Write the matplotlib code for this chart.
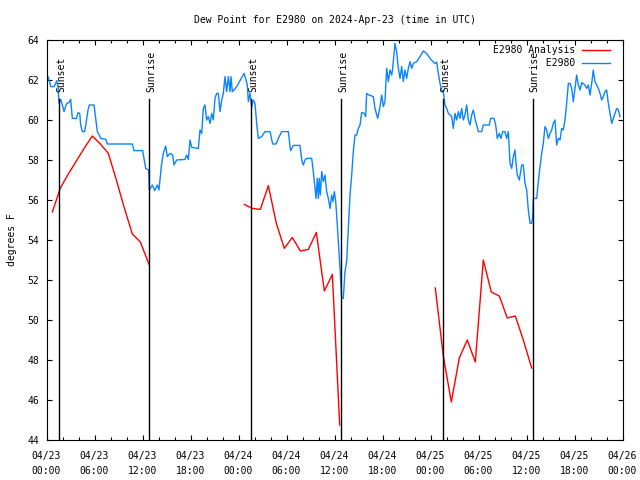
import numpy as np
import matplotlib
matplotlib.use("Agg")
import matplotlib.pyplot as plt
import matplotlib.dates as mdates

# hours since 2024-04-23 00:00 UTC
obs_hours = [0.1, 0.31, 0.52, 0.94, 1.15, 1.27, 1.44, 1.56, 1.77, 1.98, 2.19, 2.52, 2.81, 3.02, 3.23, 3.73,
             3.94, 4.15, 4.27, 4.48, 4.77, 4.94, 5.19, 5.35, 5.94, 6.15, 6.35, 6.6, 6.77, 7.44, 7.6, 10.73,
             10.94, 12.02, 12.19, 12.4, 12.77, 12.85, 13.23, 13.52, 13.85, 14.06, 14.35, 14.6, 14.9, 15.1,
             15.44, 15.77, 15.94, 16.27, 17.31, 17.52, 17.73, 17.94, 18.15, 18.98, 19.19, 19.4, 19.6, 19.81,
             20.02, 20.23, 20.44, 20.65, 20.85, 21.06, 21.27, 21.48, 21.69, 21.9, 22.1, 22.31, 22.52, 22.73,
             22.94, 23.06, 23.23, 23.44, 23.77, 24.69, 24.94, 25.1, 25.23, 25.44, 25.65, 25.85, 26.06, 26.27,
             26.48, 26.9, 27.31, 27.94, 28.27, 28.69, 28.98, 29.4, 30.23, 30.44, 30.52, 30.85, 31.69, 31.9,
             32.1, 32.31, 32.52, 33.15, 33.35, 33.56, 33.69, 33.85, 33.98, 34.1, 34.23, 34.4, 34.6, 34.81,
             35.02, 35.23, 35.44, 35.65, 35.81, 35.98, 36.15, 36.27, 36.4, 36.56, 36.69, 36.81, 36.9, 37.1,
             37.31, 37.52, 37.73, 37.94, 38.15, 38.35, 38.56, 38.77, 38.98, 39.19, 39.4, 39.73, 39.9, 40.02,
             40.31, 40.85, 41.06, 41.4, 41.69, 41.9, 42.1, 42.31, 42.52, 42.73, 42.94, 43.15, 43.27, 43.56,
             43.77, 43.98, 44.19, 44.4, 44.6, 44.81, 45.02, 45.23, 45.44, 45.65, 45.85, 46.27, 46.69, 47.1,
             47.52, 47.94, 48.35, 48.56, 48.77, 48.98, 49.19, 49.4, 49.6, 49.81, 50.02, 50.23, 50.44, 50.65,
             50.85, 51.06, 51.27, 51.48, 51.69, 51.9, 52.1, 52.31, 52.52, 52.73, 52.94, 53.15, 53.35, 53.56,
             53.77, 53.98, 54.4, 54.6, 55.35, 55.52, 55.94, 56.15, 56.35, 56.6, 56.81, 57.02, 57.31, 57.52,
             57.73, 57.94, 58.15, 58.35, 58.56, 58.69, 58.85, 59.1, 59.4, 59.6, 59.81, 60.02, 60.23, 60.44,
             60.65, 60.77, 60.85, 61.27, 61.48, 61.69, 61.9, 62.1, 62.31, 62.52, 62.73, 62.94, 63.15, 63.35,
             63.56, 63.77, 63.98, 64.19, 64.4, 64.6, 64.81, 65.02, 65.23, 65.44, 65.65, 65.85, 66.06, 66.27,
             66.48, 66.69, 66.9, 67.31, 67.52, 67.73, 67.94, 68.15, 68.35, 68.56, 68.77, 68.98, 69.19, 69.4,
             69.6, 69.81, 70.02, 70.23, 70.44, 70.65, 70.85, 71.06, 71.27, 71.48, 71.69]
obs_dewpt = [62.25, 62.03, 61.67, 61.67, 61.83, 61.97, 61.67, 60.83, 61.03, 60.75, 60.42, 60.83, 60.87, 61.03,
             60.08, 60.08, 60.37, 60.33, 59.75, 59.42, 59.42, 59.83, 60.5, 60.75, 60.75, 60.08, 59.42, 59.25,
             59.08, 59.03, 58.8, 58.8, 58.47, 58.47, 58.08, 57.58, 57.5, 56.5, 56.75, 56.47, 56.75, 56.5,
             57.67, 58.33, 58.7, 58.17, 58.33, 58.25, 57.75, 58.0, 58.03, 58.25, 58.03, 59.0, 58.63, 58.58,
             59.5, 59.33, 60.58, 60.75, 60.0, 60.17, 59.83, 60.33, 60.0, 61.08, 61.33, 61.33, 60.42, 61.0,
             61.33, 62.17, 61.42, 62.17, 61.42, 62.17, 61.42, 61.5, 61.67, 62.33, 62.0, 61.75, 60.92, 61.33,
             60.67, 61.0, 60.83, 59.83, 59.08, 59.17, 59.42, 59.42, 58.8, 58.8, 59.08, 59.42, 59.42, 58.67,
             58.47, 58.73, 58.73, 58.0, 57.75, 58.0, 58.08, 58.08, 57.42, 56.58, 56.08, 57.08, 56.08, 57.08,
             56.25, 57.42, 56.92, 57.25, 56.42, 56.08, 55.58, 56.25, 55.92, 56.42, 55.92, 55.25, 54.42, 53.42,
             52.58, 51.67, 51.08, 51.08, 52.42, 52.92, 54.58, 56.25, 57.25, 58.42, 59.25, 59.25, 59.58, 59.75,
             60.38, 60.33, 60.17, 61.33, 61.25, 61.17, 60.58, 60.08, 60.67, 61.25, 60.67, 60.92, 62.58, 61.92,
             62.5, 62.25, 62.58, 63.83, 63.42, 62.58, 62.08, 62.67, 61.92, 62.5, 62.08, 62.58, 62.92, 62.58,
             62.83, 62.92, 63.17, 63.45, 63.33, 63.08, 62.9, 62.83, 62.9, 62.33, 61.83, 61.5, 61.42, 60.75,
             60.58, 60.33, 60.25, 60.17, 59.58, 60.33, 60.0, 60.42, 60.08, 60.58, 60.0, 60.25, 60.75, 60.0,
             59.75, 60.25, 60.5, 60.08, 59.75, 59.42, 59.42, 59.75, 59.75, 60.08, 60.08, 59.75, 59.08, 59.33,
             59.08, 59.42, 59.42, 59.08, 59.42, 57.83, 57.58, 58.17, 58.5, 57.83, 57.25, 57.0, 57.75, 57.75,
             56.83, 56.5, 55.5, 54.83, 54.83, 55.17, 56.08, 56.08, 56.92, 57.67, 58.33, 58.83, 59.67, 59.5,
             59.08, 59.33, 59.5, 59.83, 60.0, 58.75, 59.08, 59.0, 59.58, 59.5, 60.0, 60.83, 61.83, 61.83,
             61.58, 60.92, 61.58, 62.25, 61.75, 61.5, 61.87, 61.75, 61.58, 61.75, 61.25, 61.83, 62.5, 61.92,
             61.75, 61.58, 61.33, 61.0, 61.17, 61.42, 61.5, 60.83, 60.33, 59.83, 60.08, 60.33, 60.58, 60.5,
             60.17]

# analysis, only during the nights
ana1_hours = [0.73, 1.73, 2.73, 3.73, 4.73, 5.73, 6.73, 7.73, 8.73, 9.73, 10.73, 11.73, 12.85]
ana1_dewpt = [55.4, 56.6, 57.3, 57.95, 58.6, 59.2, 58.8, 58.33, 57.0, 55.6, 54.3, 53.9, 52.75]
ana2_hours = [24.73, 25.73, 26.73, 27.73, 28.73, 29.73, 30.73, 31.73, 32.73, 33.73, 34.73, 35.73, 36.65]
ana2_dewpt = [55.78, 55.58, 55.53, 56.72, 54.83, 53.58, 54.13, 53.45, 53.53, 54.38, 51.45, 52.28, 44.75]
ana3_hours = [48.6, 49.6, 50.6, 51.6, 52.6, 53.6, 54.6, 55.6, 56.6, 57.6, 58.6, 59.6, 60.65]
ana3_dewpt = [51.6, 48.2, 45.9, 48.1, 49.0, 47.9, 53.0, 51.4, 51.2, 50.1, 50.2, 49.0, 47.6]

sun_hours = [1.6, 12.85, 25.6, 36.85, 49.6, 60.78]
sun_labels = ["Sunset", "Sunrise", "Sunset", "Sunrise", "Sunset", "Sunrise"]

start = np.datetime64("2024-04-23T00:00")


def to_time(hours):
    return start + (np.array(hours) * 3600).astype("timedelta64[s]")


plt.rcParams['font.family'] = ['DejaVu Sans Mono']
plt.rcParams['font.size'] = 7

fig = plt.figure(figsize=(6.4, 4.8), dpi=100)
ax = fig.add_axes([46.5 / 640, 40 / 480, 576 / 640, 400 / 480])

red = "#ff0000"
blue = "#0a84ff"

ax.plot(to_time(ana1_hours), ana1_dewpt, color=red, lw=1.0, label="E2980 Analysis")
ax.plot(to_time(ana2_hours), ana2_dewpt, color=red, lw=1.0)
ax.plot(to_time(ana3_hours), ana3_dewpt, color=red, lw=1.0)
ax.plot(to_time(obs_hours), obs_dewpt, color=blue, lw=1.0, label="E2980".rjust(14))

# sunrise / sunset markers
for h, lab in zip(sun_hours, sun_labels):
    t = to_time([h])[0]
    ax.plot([t, t], [44, 61.05], color="black", lw=1.0)
    ax.text(t + np.timedelta64(12, "m"), 61.4, lab, rotation=90, ha="center", va="bottom", fontsize=7)

ax.set_xlim(start, start + np.timedelta64(72, "h"))
ax.set_ylim(44, 64)
ax.set_yticks(np.arange(44, 65, 2))
ax.xaxis.set_major_locator(mdates.HourLocator(byhour=[0, 6, 12, 18]))
ax.xaxis.set_minor_locator(mdates.HourLocator(interval=2))
ax.xaxis.set_major_formatter(mdates.DateFormatter("%m/%d\n%H:%M"))
for lbl in ax.get_xticklabels():
    lbl.set_linespacing(1.6)

ax.tick_params(which="both", direction="in", top=True, right=True, width=0.8)
ax.tick_params(which="major", length=3.5)
ax.tick_params(which="minor", length=2)
ax.tick_params(axis="x", pad=8)
ax.tick_params(axis="y", pad=5)
for sp in ax.spines.values():
    sp.set_linewidth(0.8)

ax.set_ylabel("degrees F", labelpad=8)
ax.set_title("Dew Point for E2980 on 2024-Apr-23 (time in UTC)", fontsize=7, pad=12)

ax.legend(loc="upper right", bbox_to_anchor=(0.979, 0.9875), frameon=False, markerfirst=False,
          borderaxespad=0, borderpad=0, handlelength=2.9, handletextpad=0.7, labelspacing=0.35)

fig.savefig("out.png", dpi=100)
